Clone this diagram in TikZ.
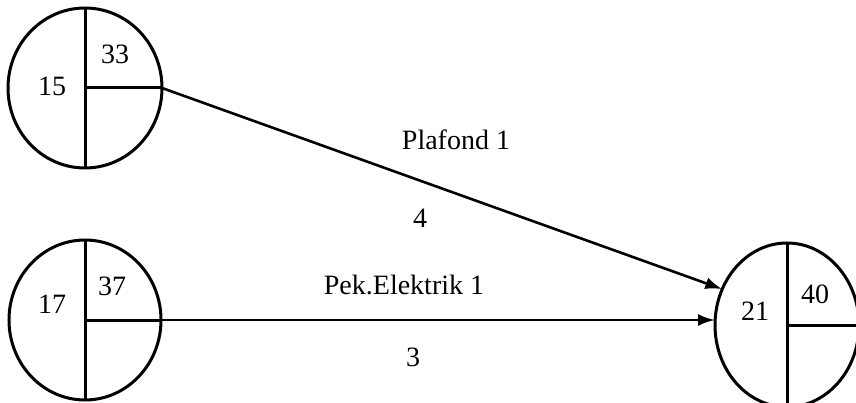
\documentclass[tikz,border=0pt]{standalone}
\usepackage{fontspec}
\setmainfont{Liberation Serif}
\usetikzlibrary{shapes.geometric,arrows.meta}
\begin{document}
\begin{tikzpicture}[x=1pt,y=-1pt,
  evt/.style={ellipse,draw,line width=3pt,inner sep=0pt,outer sep=0pt},
  divider/.style={line width=3pt},
  conn/.style={line width=2.6pt,-{Latex[length=17pt,width=12pt]}},
  lbl/.style={font=\fontsize{28}{31}\selectfont,inner sep=0pt}]
\useasboundingbox (0,0) rectangle (856,403);
\node[evt,minimum width=154pt,minimum height=160pt] (a) at (85,88) {};
\node[evt,minimum width=152pt,minimum height=160pt] (b) at (85,320) {};
\node[evt,minimum width=144pt,minimum height=164pt] (c) at (787,325) {};
\foreach \n in {a,b,c}{
  \draw[divider] (\n.north) -- (\n.south);
  \draw[divider] (\n.center) -- (\n.east);
}
\node[lbl] (a1) at (52,86) {15};
\node[lbl] (a2) at (115,54) {33};
\node[lbl] (b1) at (52,304) {17};
\node[lbl] (b2) at (112,286) {37};
\node[lbl] (c1) at (755,311) {21};
\node[lbl] (c2) at (815,294) {40};
\draw[conn] (a.east) -- (c.151);
\draw[conn] (b.east) -- (b.east -| c.west);
\node[lbl] (l1) at (456,140) {Plafond 1};
\node[lbl] (l2) at (420,218) {4};
\node[lbl] (l3) at (404,285) {Pek.Elektrik 1};
\node[lbl] (l4) at (413,357) {3};
\end{tikzpicture}
\end{document}
